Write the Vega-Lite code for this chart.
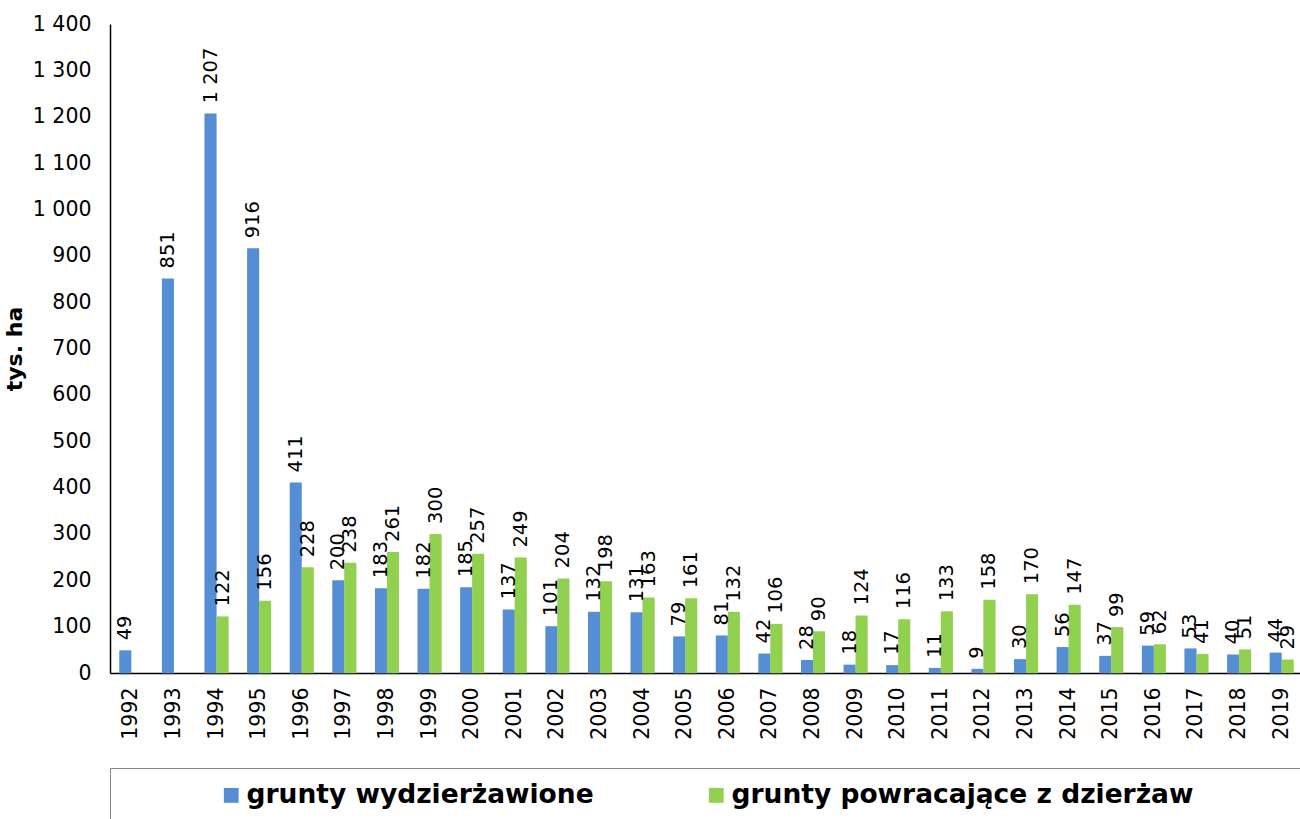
{
  "$schema": "https://vega.github.io/schema/vega-lite/v6.json",
  "width": 1193,
  "height": 649,
  "autosize": {"type": "none"},
  "padding": {"left": 110, "top": 24, "right": 0, "bottom": 146},
  "background": "white",
  "config": {
    "view": {"stroke": null},
    "font": "DejaVu Sans",
    "locale": {"number": {"decimal": ",", "thousands": " ", "grouping": [3], "currency": ["", " zł"]}}
  },
  "data": {
    "values": [
      {"rok": "1992", "seria": "grunty wydzierżawione", "wartosc": 49},
      {"rok": "1993", "seria": "grunty wydzierżawione", "wartosc": 851},
      {"rok": "1994", "seria": "grunty wydzierżawione", "wartosc": 1207},
      {"rok": "1995", "seria": "grunty wydzierżawione", "wartosc": 916},
      {"rok": "1996", "seria": "grunty wydzierżawione", "wartosc": 411},
      {"rok": "1997", "seria": "grunty wydzierżawione", "wartosc": 200},
      {"rok": "1998", "seria": "grunty wydzierżawione", "wartosc": 183},
      {"rok": "1999", "seria": "grunty wydzierżawione", "wartosc": 182},
      {"rok": "2000", "seria": "grunty wydzierżawione", "wartosc": 185},
      {"rok": "2001", "seria": "grunty wydzierżawione", "wartosc": 137},
      {"rok": "2002", "seria": "grunty wydzierżawione", "wartosc": 101},
      {"rok": "2003", "seria": "grunty wydzierżawione", "wartosc": 132},
      {"rok": "2004", "seria": "grunty wydzierżawione", "wartosc": 131},
      {"rok": "2005", "seria": "grunty wydzierżawione", "wartosc": 79},
      {"rok": "2006", "seria": "grunty wydzierżawione", "wartosc": 81},
      {"rok": "2007", "seria": "grunty wydzierżawione", "wartosc": 42},
      {"rok": "2008", "seria": "grunty wydzierżawione", "wartosc": 28},
      {"rok": "2009", "seria": "grunty wydzierżawione", "wartosc": 18},
      {"rok": "2010", "seria": "grunty wydzierżawione", "wartosc": 17},
      {"rok": "2011", "seria": "grunty wydzierżawione", "wartosc": 11},
      {"rok": "2012", "seria": "grunty wydzierżawione", "wartosc": 9},
      {"rok": "2013", "seria": "grunty wydzierżawione", "wartosc": 30},
      {"rok": "2014", "seria": "grunty wydzierżawione", "wartosc": 56},
      {"rok": "2015", "seria": "grunty wydzierżawione", "wartosc": 37},
      {"rok": "2016", "seria": "grunty wydzierżawione", "wartosc": 59},
      {"rok": "2017", "seria": "grunty wydzierżawione", "wartosc": 53},
      {"rok": "2018", "seria": "grunty wydzierżawione", "wartosc": 40},
      {"rok": "2019", "seria": "grunty wydzierżawione", "wartosc": 44},
      {"rok": "1994", "seria": "grunty powracające z dzierżaw", "wartosc": 122},
      {"rok": "1995", "seria": "grunty powracające z dzierżaw", "wartosc": 156},
      {"rok": "1996", "seria": "grunty powracające z dzierżaw", "wartosc": 228},
      {"rok": "1997", "seria": "grunty powracające z dzierżaw", "wartosc": 238},
      {"rok": "1998", "seria": "grunty powracające z dzierżaw", "wartosc": 261},
      {"rok": "1999", "seria": "grunty powracające z dzierżaw", "wartosc": 300},
      {"rok": "2000", "seria": "grunty powracające z dzierżaw", "wartosc": 257},
      {"rok": "2001", "seria": "grunty powracające z dzierżaw", "wartosc": 249},
      {"rok": "2002", "seria": "grunty powracające z dzierżaw", "wartosc": 204},
      {"rok": "2003", "seria": "grunty powracające z dzierżaw", "wartosc": 198},
      {"rok": "2004", "seria": "grunty powracające z dzierżaw", "wartosc": 163},
      {"rok": "2005", "seria": "grunty powracające z dzierżaw", "wartosc": 161},
      {"rok": "2006", "seria": "grunty powracające z dzierżaw", "wartosc": 132},
      {"rok": "2007", "seria": "grunty powracające z dzierżaw", "wartosc": 106},
      {"rok": "2008", "seria": "grunty powracające z dzierżaw", "wartosc": 90},
      {"rok": "2009", "seria": "grunty powracające z dzierżaw", "wartosc": 124},
      {"rok": "2010", "seria": "grunty powracające z dzierżaw", "wartosc": 116},
      {"rok": "2011", "seria": "grunty powracające z dzierżaw", "wartosc": 133},
      {"rok": "2012", "seria": "grunty powracające z dzierżaw", "wartosc": 158},
      {"rok": "2013", "seria": "grunty powracające z dzierżaw", "wartosc": 170},
      {"rok": "2014", "seria": "grunty powracające z dzierżaw", "wartosc": 147},
      {"rok": "2015", "seria": "grunty powracające z dzierżaw", "wartosc": 99},
      {"rok": "2016", "seria": "grunty powracające z dzierżaw", "wartosc": 62},
      {"rok": "2017", "seria": "grunty powracające z dzierżaw", "wartosc": 41},
      {"rok": "2018", "seria": "grunty powracające z dzierżaw", "wartosc": 51},
      {"rok": "2019", "seria": "grunty powracające z dzierżaw", "wartosc": 29}
    ]
  },
  "encoding": {
    "x": {
      "field": "rok",
      "type": "nominal",
      "sort": null,
      "scale": {"paddingInner": 0.437, "paddingOuter": 0.2185},
      "axis": {
        "title": null,
        "labelAngle": 270,
        "labelAlign": "right",
        "labelBaseline": "middle",
        "labelFontSize": 20.5,
        "labelColor": "black",
        "labelPadding": 14,
        "labelOverlap": false,
        "ticks": false,
        "domainColor": "black",
        "domainWidth": 1.5
      }
    },
    "xOffset": {
      "field": "seria",
      "type": "nominal",
      "sort": ["grunty wydzierżawione", "grunty powracające z dzierżaw"],
      "scale": {"paddingInner": 0, "paddingOuter": 0}
    },
    "y": {
      "field": "wartosc",
      "type": "quantitative",
      "scale": {"domain": [0, 1400], "nice": false},
      "axis": {
        "title": "tys. ha",
        "titleFontSize": 22,
        "titleFontWeight": "bold",
        "titleColor": "black",
        "titlePadding": 6,
        "values": [0,100,200,300,400,500,600,700,800,900,1000,1100,1200,1300,1400],
        "format": ",d",
        "grid": false,
        "ticks": false,
        "labelOverlap": false,
        "labelFontSize": 20.5,
        "labelColor": "black",
        "labelPadding": 19,
        "domainColor": "black",
        "domainWidth": 1.5
      }
    }
  },
  "layer": [
    {
      "mark": {"type": "bar", "color": "#999999", "opacity": 0.35, "xOffset": 4, "yOffset": 2},
      "encoding": {}
    },
    {
      "mark": {"type": "bar"},
      "encoding": {
        "color": {
          "field": "seria",
          "type": "nominal",
          "scale": {
            "domain": ["grunty wydzierżawione", "grunty powracające z dzierżaw"],
            "range": ["#558ED5", "#92D050"]
          },
          "legend": {
            "orient": "none",
            "legendX": 0,
            "legendY": 744,
            "direction": "horizontal",
            "title": " ",
            "titleOrient": "left",
            "titlePadding": 94,
            "padding": 14,
            "strokeColor": "#888888",
            "symbolType": "square",
            "symbolSize": 220,
            "symbolStrokeWidth": 0,
            "symbolOpacity": 1,
            "labelFontSize": 26.5,
            "labelFontWeight": "bold",
            "labelColor": "black",
            "labelOffset": 2,
            "labelLimit": 0,
            "columnPadding": 109,
            "labelExpr": "indexof(datum.label, 'powrac') >= 0 ? datum.label + '\u2800\u2800\u2800\u2800\u2800' : datum.label"
          }
        }
      }
    },
    {
      "mark": {"type": "text", "angle": 270, "align": "left", "baseline": "middle", "dx": 10, "fontSize": 19.5, "color": "black"},
      "encoding": {
        "text": {"field": "wartosc", "type": "quantitative", "format": ",d"}
      }
    }
  ]
}
